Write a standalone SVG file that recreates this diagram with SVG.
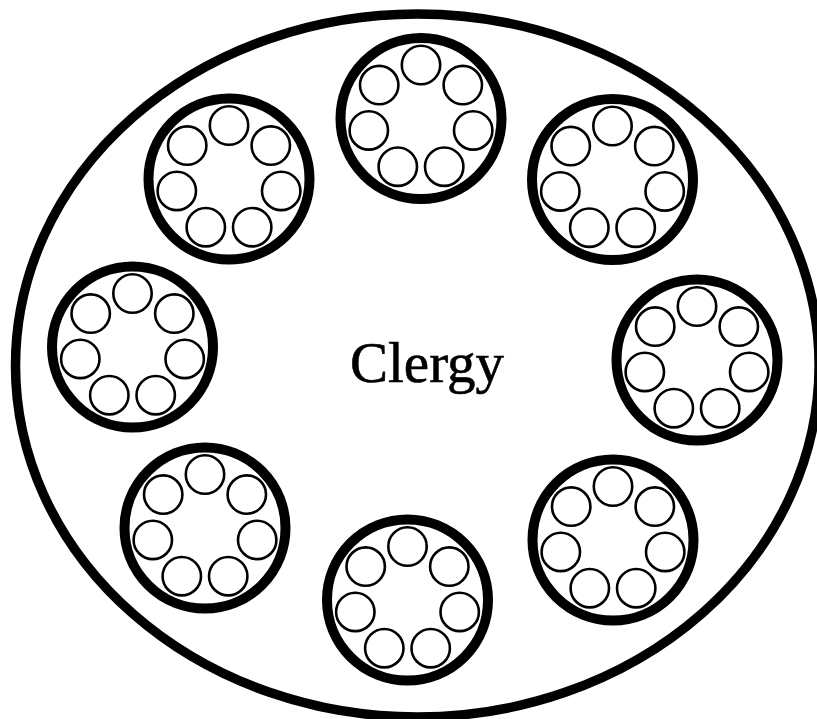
<svg xmlns="http://www.w3.org/2000/svg" xmlns:xlink="http://www.w3.org/1999/xlink" width="817" height="719" viewBox="0 0 817 719">
<style>
.outer{fill:none;stroke:#000;stroke-width:9.5}
.ring{fill:#fff;stroke:#000;stroke-width:10}
.seat{fill:#fff;stroke:#000;stroke-width:2.6}
.label{font-family:"Liberation Serif","Times New Roman",serif;font-size:57px;fill:#000;stroke:#000;stroke-width:0.6}
</style>
<defs>
<g id="cluster">
<circle class="ring" cx="0" cy="0" r="80.5"/>
<circle class="seat" cx="0" cy="-53.5" r="19.2"/>
<circle class="seat" cx="41.8" cy="-33.4" r="19.2"/>
<circle class="seat" cx="52.2" cy="11.9" r="19.2"/>
<circle class="seat" cx="23.2" cy="48.2" r="19.2"/>
<circle class="seat" cx="-23.2" cy="48.2" r="19.2"/>
<circle class="seat" cx="-52.2" cy="11.9" r="19.2"/>
<circle class="seat" cx="-41.8" cy="-33.4" r="19.2"/>
</g>
</defs>
<rect width="817" height="719" fill="#fff"/>
<g id="boundary"><ellipse class="outer" cx="417.3" cy="365.5" rx="401.8" ry="351.5"/></g>
<g id="connectors"></g>
<g id="c-top"><use xlink:href="#cluster" href="#cluster" x="421" y="118.5"/></g>
<g id="c-upper-right"><use xlink:href="#cluster" href="#cluster" x="612.5" y="179.5"/></g>
<g id="c-right"><use xlink:href="#cluster" href="#cluster" x="697" y="360"/></g>
<g id="c-lower-right"><use xlink:href="#cluster" href="#cluster" x="613" y="540"/></g>
<g id="c-bottom"><use xlink:href="#cluster" href="#cluster" x="407.5" y="600"/></g>
<g id="c-lower-left"><use xlink:href="#cluster" href="#cluster" x="205" y="528"/></g>
<g id="c-left"><use xlink:href="#cluster" href="#cluster" x="132.5" y="347"/></g>
<g id="c-upper-left"><use xlink:href="#cluster" href="#cluster" x="229" y="179"/></g>
<g id="center-label"><text class="label" x="350" y="382">Clergy</text></g>
</svg>
